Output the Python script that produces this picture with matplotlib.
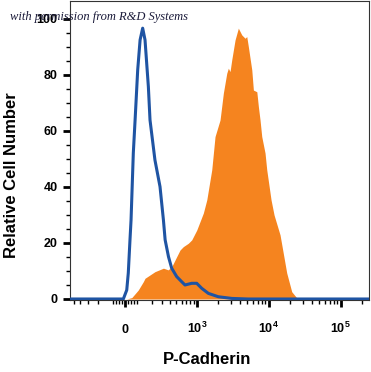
import numpy as np
import matplotlib
matplotlib.use("Agg")
import matplotlib.pyplot as plt
from matplotlib.ticker import FixedLocator

plt.rcParams['font.family'] = ['Liberation Sans', 'DejaVu Sans']
plt.rcParams['mathtext.fontset'] = 'custom'
plt.rcParams['mathtext.rm'] = 'Liberation Sans'
plt.rcParams['mathtext.bf'] = 'Liberation Sans:bold'

# isotype control (blue outline)
blue_x = [-570, -40, -11, 11, 21, 32, 39, 54, 66, 84, 101, 120, 138, 165, 179,
          224, 276, 315, 336, 380, 426, 507, 600, 672, 840, 990, 1166, 1444,
          1991, 3070, 5150, 247000]
blue_y = [0, 0, 0, 3.2, 9.3, 21.1, 28.2, 52.1, 63.9, 81.8, 92.5, 96.7, 92.5,
          75.8, 63.9, 49.6, 40.1, 28.2, 21.1, 15.1, 11.0, 8.0, 6.2, 5.0, 5.6,
          5.6, 3.8, 2.0, 0.8, 0.2, 0, 0]

# P-Cadherin stained (orange filled)
orange_x = [11, 44, 88, 125, 138, 224, 315, 376, 426, 507, 569, 636, 751, 840,
            990, 1228, 1372, 1610, 1790, 2103, 2339, 2608, 2744, 2899, 3062,
            3404, 3782, 4218, 4687, 4950, 5210, 5815, 6120, 6830, 7180, 7575,
            8000, 8890, 9390, 10770, 11860, 14360, 17780, 20870, 24500, 31900]
orange_y = [0, 0.5, 3.2, 6.2, 7.4, 9.75, 11.0, 10.4, 11.5, 15.1, 17.5, 18.7,
            19.9, 21.1, 24.6, 30.7, 35.4, 46.1, 58.0, 63.9, 73.5, 80.6, 82.4,
            81.2, 85.4, 92.5, 96.7, 94.3, 93.1, 93.7, 90.1, 81.8, 74.6, 74.0,
            68.7, 63.9, 58.0, 52.1, 46.1, 35.4, 30.0, 22.9, 9.3, 2.6, 0.4, 0]

xticks = [0, 1e3, 1e4, 1e5]
xticklabels = ['0', r'$\mathbf{10^{3}}$', r'$\mathbf{10^{4}}$', r'$\mathbf{10^{5}}$']
xminor = ([-500, -400, -300, -200] + list(range(-80, 81, 20)) +
          [200, 300, 400, 500, 600, 700, 800, 900] +
          [2000, 3000, 4000, 5000, 6000, 7000, 8000, 9000] +
          [20000, 30000, 40000, 50000, 60000, 70000, 80000, 90000, 200000])
yticks = [0, 20, 40, 60, 80, 100]

# logicle-like display: arcsinh
W = 202.0
fwd = lambda v: np.arcsinh(np.asarray(v) / W)
inv = lambda v: W * np.sinh(np.asarray(v))

fig = plt.figure(figsize=(3.71, 3.72), dpi=100)
ax = fig.add_axes([70/371, 1 - 300/372, 299/371, 299/372])
ax.set_xscale('function', functions=(fwd, inv))

ax.fill_between(orange_x, orange_y, 0, color='#f5841f', lw=0, zorder=2)
ax.plot(blue_x, blue_y, color='#1f54a3', lw=2.2, zorder=3)

ax.set_xlim(-570, 247000)
ax.set_ylim(-0.36, 106.4)

for s in ax.spines.values():
    s.set_linewidth(0.8)
    s.set_color('#333333')

ax.xaxis.set_major_locator(FixedLocator(xticks))
ax.xaxis.set_minor_locator(FixedLocator(xminor))
ax.set_xticklabels(xticklabels)
ax.yaxis.set_major_locator(FixedLocator(yticks))
ax.yaxis.set_minor_locator(FixedLocator([v for v in range(5, 100, 5) if v % 20]))

ax.tick_params(axis='both', which='major', direction='out', length=5,
               width=2.0, color='black', labelsize=9)
ax.tick_params(axis='both', which='minor', direction='out', length=2.8,
               width=1.0, color='black')
ax.tick_params(axis='x', which='major', pad=19)
ax.tick_params(axis='y', which='major', pad=4)
for t in ax.xaxis.get_major_ticks():
    t.label1.set_verticalalignment('baseline')
    t.label1.set_fontweight('bold')
for t in ax.get_yticklabels():
    t.set_fontweight('bold')

ax.set_xlabel('P-Cadherin', fontsize=12, fontweight='bold')
ax.set_ylabel('Relative Cell Number', fontsize=12, fontweight='bold')
ax.xaxis.set_label_coords(0.458, -0.174)
ax.yaxis.set_label_coords(-0.169, 0.418)

fig.text(10/371, 1 - 20/372, 'with permission from R&D Systems',
         family='Liberation Serif', style='italic', fontsize=9,
         color='#1b1b3a', va='baseline', ha='left')

fig.savefig('out.png', dpi=100)
